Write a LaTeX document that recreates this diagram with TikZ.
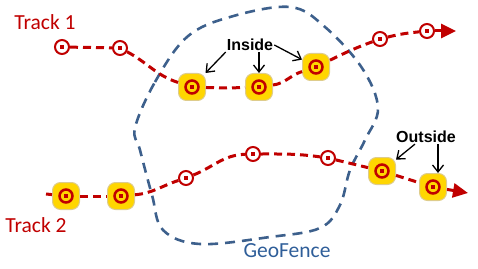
\documentclass[tikz,border=0pt]{standalone}
\usepackage{fontspec}
\setmainfont{Carlito}
\newfontfamily\calloutfont{Liberation Sans}
\usetikzlibrary{arrows.meta}
\definecolor{trackred}{RGB}{192, 0, 0}
\definecolor{fenceblue}{RGB}{61, 96, 140}
\definecolor{fencetext}{RGB}{47, 94, 153}
\definecolor{hotgold}{RGB}{255, 214, 0}
\definecolor{hotrim}{RGB}{222, 204, 140}

\begin{document}
\begin{tikzpicture}[x=1pt, y=1pt,
    trackline/.style={draw=trackred, line width=3, dash pattern=on 8pt off 5pt},
    trackend/.style={trackline, -{Triangle[length=15pt, width=14pt]}},
    fenceline/.style={draw=fenceblue, line width=2.6, dash pattern=on 10pt off 7pt},
    plainpt/.style={circle, draw=trackred, line width=2, fill=white,
        inner sep=0, minimum size=14,
        path picture={\fill[trackred] ([shift={(-1.8,-1.8)}]path picture bounding box.center)
            rectangle ([shift={(1.8,1.8)}]path picture bounding box.center);}},
    hotpt/.style={rectangle, rounded corners=8, draw=hotrim, line width=1, fill=hotgold,
        inner sep=0, minimum size=27,
        path picture={\draw[trackred, line width=2.5, solid, sharp corners]
                (path picture bounding box.center) circle[radius=6.5];
            \fill[trackred, sharp corners] ([shift={(-2,-2)}]path picture bounding box.center)
            rectangle ([shift={(2,2)}]path picture bounding box.center);}},
    tracklabel/.style={text=trackred, font=\fontsize{21.5}{24}\selectfont, inner sep=1},
    calloutlabel/.style={font=\calloutfont\bfseries\fontsize{16}{18}\selectfont, inner sep=1},
    callout/.style={draw=black, line width=1.3, -{Straight Barb[length=7pt, width=11pt]}}
]
\useasboundingbox (0,0) rectangle (478,268);

% GeoFence outline
\draw[fenceline] plot[smooth cycle, tension=0.6] coordinates {
    (135,140) (155,186) (187,231) (230,251) (290,261) (325,241) (362,200)
    (378,160) (365,128) (350,98) (340,63) (320,40) (270,31) (200,24)
    (163,38) (152,73) (140,118)};
\node[text=fencetext, font=\fontsize{21.5}{24}\selectfont, inner sep=1] (fence) at (287,17) {GeoFence};

% Track 1 points
\node[plainpt] (t1a) at (62,221) {};
\node[plainpt] (t1b) at (120,220) {};
\node[hotpt] (t1c) at (192,181) {};
\node[hotpt] (t1d) at (259,181) {};
\node[hotpt] (t1e) at (316,201) {};
\node[plainpt] (t1f) at (380,229) {};
\node[plainpt] (t1g) at (427,237) {};
\coordinate (t1end) at (456,237);

\draw[trackline] (t1a) -- (t1b);
\draw[trackline] (t1b) to[out=-28, in=162] (t1c);
\draw[trackline] (t1c) to[out=-2, in=182] (t1d);
\draw[trackline] (t1d) to[out=8, in=198] (t1e);
\draw[trackline] (t1e) to[out=26, in=200] (t1f);
\draw[trackline] (t1f) to[out=14, in=186] (t1g);
\draw[trackend] (t1g) -- (t1end);

% Track 2 points
\coordinate (t2start) at (46,74);
\node[hotpt] (t2a) at (66,72) {};
\node[hotpt] (t2b) at (121,72) {};
\node[plainpt] (t2c) at (186,90) {};
\node[plainpt] (t2d) at (253,114) {};
\node[plainpt] (t2e) at (328,110) {};
\node[hotpt] (t2f) at (382,97) {};
\node[hotpt] (t2g) at (433,81) {};
\coordinate (t2end) at (468,75);

\draw[trackline] (t2start) -- (t2a);
\draw[trackline] (t2a) -- (t2b);
\draw[trackline] (t2b) to[out=5, in=198] (t2c);
\draw[trackline] (t2c) to[out=22, in=182] (t2d);
\draw[trackline] (t2d) to[out=0, in=172] (t2e);
\draw[trackline] (t2e) -- (t2f);
\draw[trackline] (t2f) -- (t2g);
\draw[trackend] (t2g) -- (t2end);

% Labels
\node[tracklabel] (track1) at (45,246) {Track 1};
\node[tracklabel] (track2) at (36,43) {Track 2};

% Callouts
\node[calloutlabel] (inside) at (250,223) {Inside};
\draw[callout] (inside.south west) -- (t1c);
\draw[callout] (inside.south -| t1d) -- (t1d);
\draw[callout] (inside.east) -- (t1e);

\node[calloutlabel] (outside) at (426,131) {Outside};
\draw[callout] ([xshift=-11]outside.south) -- (t2f);
\draw[callout] ([xshift=12]outside.south) -- ([xshift=5]t2g.north);

\end{tikzpicture}
\end{document}
